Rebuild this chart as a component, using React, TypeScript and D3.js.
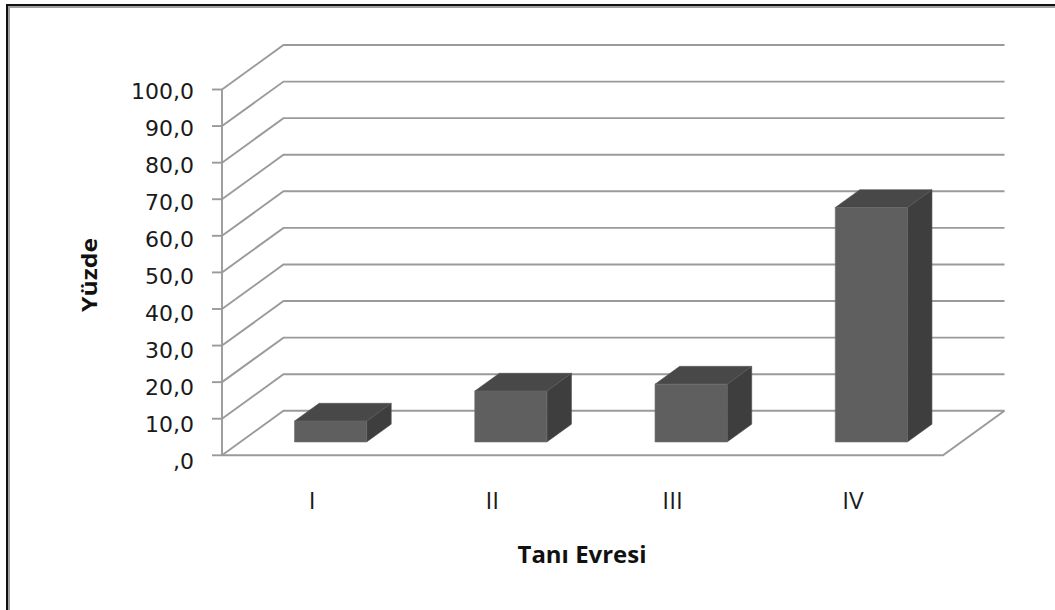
import React from "react";
import * as d3 from "d3";

const categories = ["I", "II", "III", "IV"];
const values = [5.7, 13.9, 15.8, 64.1];
const yTicks = [0, 10, 20, 30, 40, 50, 60, 70, 80, 90, 100];
const yTickLabels = [",0", "10,0", "20,0", "30,0", "40,0", "50,0", "60,0", "70,0", "80,0", "90,0", "100,0"];
const xTitle = "Tanı Evresi";
const yTitle = "Yüzde";

const W = 1055;
const H = 610;
const DX = 61.5;
const DY = -44.5;

export default function App() {
  const x = d3.scaleBand<string>().domain(categories).range([222, 943]).paddingInner(0).paddingOuter(0);
  const y = d3.scaleLinear().domain([0, 100]).range([455.3, 89.5]);
  const yLab = d3.scaleLinear().domain([0, 100]).range([461, 91]);
  const bw = x.bandwidth();
  const proj = (px: number, v: number, z: number): [number, number] => [px + z * DX, y(v) + z * DY];
  const pts = (arr: [number, number][]) => arr.map((p) => p.join(",")).join(" ");
  const line = d3.line();

  const gridColor = "#9a9a9a";
  const z0 = 0.3;
  const z1 = 0.7;

  return (
    <svg width={W} height={H} style={{ position: "absolute", left: 0, top: 0, background: "#fff" }}>
      {/* frame */}
      <rect x={6} y={4} width={W - 6} height={2} fill="#111" />
      <rect x={8} y={6} width={W - 8} height={2} fill="#a0a0a0" />
      <rect x={6} y={4} width={2} height={H - 4} fill="#111" />
      <rect x={8} y={6} width={2} height={H - 6} fill="#a0a0a0" />

      {/* gridlines on side + back walls */}
      {yTicks.map((t) => (
        <path
          key={"g" + t}
          d={line([
            proj(222, t, 0),
            proj(222, t, 1),
            proj(943, t, 1),
          ]) || ""}
          fill="none"
          stroke={gridColor}
          strokeWidth={1.9}
        />
      ))}
      {/* floor front and right edge */}
      <path
        d={line([proj(222, 0, 0), proj(943, 0, 0), proj(943, 0, 1)]) || ""}
        fill="none"
        stroke={gridColor}
        strokeWidth={1.9}
      />
      {/* vertical axis */}
      <line x1={222} x2={222} y1={y(0)} y2={y(100)} stroke={gridColor} strokeWidth={1.9} />
      {yTicks.map((t) => (
        <line key={"t" + t} x1={212} x2={222} y1={y(t)} y2={y(t)} stroke={gridColor} strokeWidth={1.9} />
      ))}
      {yTicks.map((t, i) => (
        <text
          key={"l" + t}
          x={194}
          y={yLab(t)}
          dy="0.36em"
          textAnchor="end"
          fontFamily="DejaVu Sans"
          fontSize={22}
          fill="#1a1a1a"
        >
          {yTickLabels[i]}
        </text>
      ))}

      {/* bars */}
      {categories.map((c, i) => {
        const v = values[i];
        const xa = (x(c) as number) + bw * 0.3;
        const xb = xa + bw * 0.4;
        const front: [number, number][] = [proj(xa, v, z0), proj(xb, v, z0), proj(xb, 0, z0), proj(xa, 0, z0)];
        const top: [number, number][] = [proj(xa, v, z0), proj(xb, v, z0), proj(xb, v, z1), proj(xa, v, z1)];
        const side: [number, number][] = [proj(xb, v, z0), proj(xb, 0, z0), proj(xb, 0, z1), proj(xb, v, z1)];
        return (
          <g key={"b" + c}>
            <polygon points={pts(side)} fill="#3e3e3e" stroke="#555" strokeWidth={0.6} />
            <polygon points={pts(top)} fill="#484848" stroke="#555" strokeWidth={0.6} />
            <polygon points={pts(front)} fill="#5f5f5f" stroke="#6a6a6a" strokeWidth={0.6} />
          </g>
        );
      })}

      {/* category labels */}
      {categories.map((c) => (
        <text
          key={"c" + c}
          x={(x(c) as number) + bw / 2}
          y={509}
          textAnchor="middle"
          fontFamily="Open Sans"
          fontSize={24.5}
          fill="#1a1a1a"
        >
          {c}
        </text>
      ))}

      {/* axis titles */}
      <text
        x={582}
        y={563}
        textAnchor="middle"
        fontFamily="Open Sans"
        fontWeight="bold"
        fontSize={23}
        textLength={129}
        lengthAdjust="spacingAndGlyphs"
        fill="#111"
      >
        {xTitle}
      </text>
      <text
        transform="translate(97,275) rotate(-90)"
        textAnchor="middle"
        fontFamily="Open Sans"
        fontWeight="bold"
        fontSize={22}
        textLength={74}
        lengthAdjust="spacingAndGlyphs"
        fill="#111"
      >
        {yTitle}
      </text>
    </svg>
  );
}
